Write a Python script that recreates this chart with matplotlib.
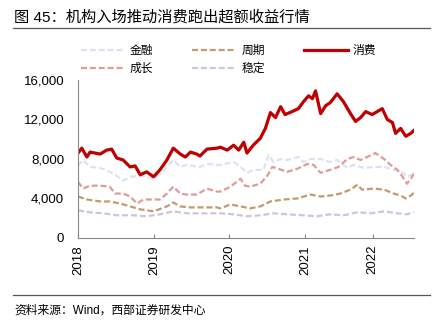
import matplotlib
matplotlib.use("Agg")
import matplotlib.pyplot as plt
from matplotlib.lines import Line2D

plt.rcParams['font.family'] = ['Liberation Sans', 'Noto Sans CJK SC']

# 时间轴：自2018年1月起的月数
xticks_pos = [0, 12, 23.8, 35.8, 46.4]
xtick_labels = ["2018", "2019", "2020", "2021", "2022"]

# 消费
t_xf = [0, 0.6, 1.4, 1.9, 3.5, 4.5, 5.3, 6.1, 7.1, 8.2, 9.0, 9.8, 10.8, 11.9, 12.9,
        14.0, 15.0, 16.1, 16.9, 17.7, 18.7, 19.2, 20.3, 21.9, 22.4, 23.5, 24.5, 25.3,
        26.1, 26.6, 27.6, 28.7, 29.5, 30.3, 31.1, 31.9, 32.6, 33.7, 34.7, 35.5, 36.3,
        36.9, 37.4, 38.2, 39.0, 39.7, 40.8, 41.8, 42.9, 43.7, 44.5, 45.3, 46.3, 47.1,
        47.9, 48.7, 49.5, 50.0, 50.8, 51.6, 52.4, 52.9]
v_xf = [8600, 9100, 8200, 8700, 8500, 8900, 9000, 8100, 7900, 7200, 7300, 6400, 6700, 6200, 6900,
        7900, 9100, 8500, 8200, 8700, 8500, 8300, 9000, 9100, 9200, 8900, 9400, 8900,
        9700, 8600, 9400, 10100, 11100, 12700, 12200, 13300, 12500, 12800, 13100, 13800, 14400,
        14100, 14900, 12600, 13400, 13700, 14600, 13800, 12600, 11800, 12200, 12800, 12500, 12800,
        13100, 12000, 11700, 10600, 11100, 10300, 10600, 10900]

# 金融
t_jr = [0, 0.8, 1.9, 3.5, 5.0, 6.1, 7.1, 8.2, 9.8, 10.8, 11.9, 12.9, 14.0, 15.0, 16.1,
        17.1, 18.2, 19.2, 20.3, 21.9, 22.4, 24.5, 25.6, 26.6, 27.6, 29.2, 30.0, 30.8,
        31.9, 32.9, 34.7, 35.5, 36.6, 38.2, 39.7, 40.8, 42.4, 43.4, 45.0, 46.6, 48.2,
        49.7, 51.0, 51.8, 52.9]
v_jr = [7300, 7900, 7200, 7100, 6700, 6300, 5800, 6200, 6300, 6200, 6000, 6500, 7200, 7900, 7200,
        7400, 7300, 7200, 7500, 7400, 7400, 7700, 7200, 6600, 6900, 6900, 8400, 7700,
        8000, 7900, 8200, 7700, 8000, 8000, 7700, 7900, 7100, 7400, 7100, 7200, 7200,
        6900, 6700, 6200, 6500]

# 成长
t_cz = [0, 0.8, 1.9, 3.5, 5.0, 5.8, 7.1, 8.2, 9.3, 10.3, 11.9, 12.9, 14.0, 15.0, 16.1,
        17.1, 18.7, 20.3, 21.9, 22.4, 24.0, 25.6, 26.3, 27.1, 28.7, 29.8, 30.6, 31.6,
        32.9, 34.5, 36.1, 37.1, 38.2, 39.7, 41.0, 42.4, 43.4, 44.5, 45.5, 46.8, 48.2,
        49.2, 50.3, 51.0, 51.8, 52.4, 52.9]
v_cz = [5700, 5000, 5300, 5300, 5200, 4500, 4500, 4200, 3500, 3900, 3900, 3900, 4500, 5200, 4500,
        4400, 4400, 5000, 4700, 4700, 5200, 6000, 5300, 5200, 5500, 6300, 7200, 7000,
        6700, 7000, 7500, 7400, 6600, 6900, 7200, 8000, 8200, 7900, 8200, 8600, 8000,
        7400, 6900, 6300, 5500, 6000, 6500]

# 周期
t_zq = [0, 1.4, 3.5, 5.0, 6.6, 8.2, 9.8, 11.9, 14.0, 15.0, 16.1, 17.7, 19.8, 21.9, 22.4,
        24.0, 25.6, 27.1, 28.7, 30.3, 32.4, 34.5, 36.6, 38.2, 39.7, 41.3, 42.9, 44.0,
        44.7, 46.6, 48.2, 49.7, 50.8, 51.6, 52.4, 52.9]
v_zq = [4200, 3900, 3700, 3700, 3500, 3200, 2900, 2700, 3200, 3600, 3200, 3100, 3100, 3100, 3000,
        3400, 3200, 3000, 3200, 3700, 3900, 4000, 4400, 4200, 4300, 4500, 4900, 5400,
        4900, 5000, 4900, 4500, 4300, 4000, 4300, 4600]

# 稳定
t_wd = [0, 1.9, 4.0, 6.1, 8.7, 10.8, 12.9, 15.0, 17.1, 20.3, 22.4, 24.5, 26.6, 28.7, 30.8,
        32.9, 35.5, 37.6, 39.7, 41.8, 44.0, 46.1, 48.2, 50.3, 51.8, 52.9]
v_wd = [2800, 2600, 2500, 2300, 2300, 2200, 2400, 2700, 2500, 2500, 2500, 2400, 2200, 2300, 2500,
        2400, 2300, 2200, 2400, 2300, 2600, 2500, 2700, 2500, 2400, 2600]

fig = plt.figure(figsize=(4.43, 3.27), dpi=100)
ax = fig.add_axes([78 / 443, 1 - 238 / 327, 336 / 443, 158 / 327])

dash = (0, (2.7, 1.3))
l_jr, = ax.plot(t_jr, v_jr, color='#dbe3f3', lw=1.6, ls=dash, label='金融')
l_cz, = ax.plot(t_cz, v_cz, color='#e29a9a', lw=1.6, ls=dash, label='成长')
l_zq, = ax.plot(t_zq, v_zq, color='#c39b6e', lw=1.6, ls=dash, label='周期')
l_wd, = ax.plot(t_wd, v_wd, color='#cfc3de', lw=1.6, ls=dash, label='稳定')
l_xf, = ax.plot(t_xf, v_xf, color='#c00000', lw=2.3, label='消费')

ax.set_xlim(0, max(t_xf))
ax.set_ylim(0, 16000)
ax.set_yticks([0, 4000, 8000, 12000, 16000])
ax.set_yticklabels([f"{v:,}" for v in [0, 4000, 8000, 12000, 16000]], fontsize=9.5)
ax.set_xticks(xticks_pos)
ax.set_xticklabels(xtick_labels, rotation=90, fontsize=9.5)
ax.tick_params(axis='y', length=0, pad=10)
ax.tick_params(axis='x', direction='in', length=3, color='#888888', pad=5)
for s in ['top', 'right']:
    ax.spines[s].set_visible(False)
for s in ['left', 'bottom']:
    ax.spines[s].set_color('#888888')
    ax.spines[s].set_linewidth(0.8)

handles = [l_jr, l_cz, l_zq, l_wd, l_xf]
fig.legend(handles=handles, labels=[h.get_label() for h in handles], ncol=3,
           loc='upper left', bbox_to_anchor=(81 / 443, 1 - 45 / 327), frameon=False,
           fontsize=8.5, handlelength=3.7, handletextpad=0.45, columnspacing=3.3,
           labelspacing=0.5, borderpad=0, borderaxespad=0)

fig.text(14 / 443, 1 - 17 / 327, "图 45：机构入场推动消费跑出超额收益行情", fontsize=11,
         va='center', ha='left')
fig.add_artist(Line2D([13 / 443, 430 / 443], [1 - 28 / 327, 1 - 28 / 327],
                      color='#555555', lw=0.9))
fig.add_artist(Line2D([13 / 443, 430 / 443], [1 - 295 / 327, 1 - 295 / 327],
                      color='#555555', lw=0.9))
fig.text(14 / 443, 1 - 311 / 327, "资料来源：Wind，西部证券研发中心", fontsize=8.5,
         va='center', ha='left')

fig.savefig("out.png", dpi=100)
